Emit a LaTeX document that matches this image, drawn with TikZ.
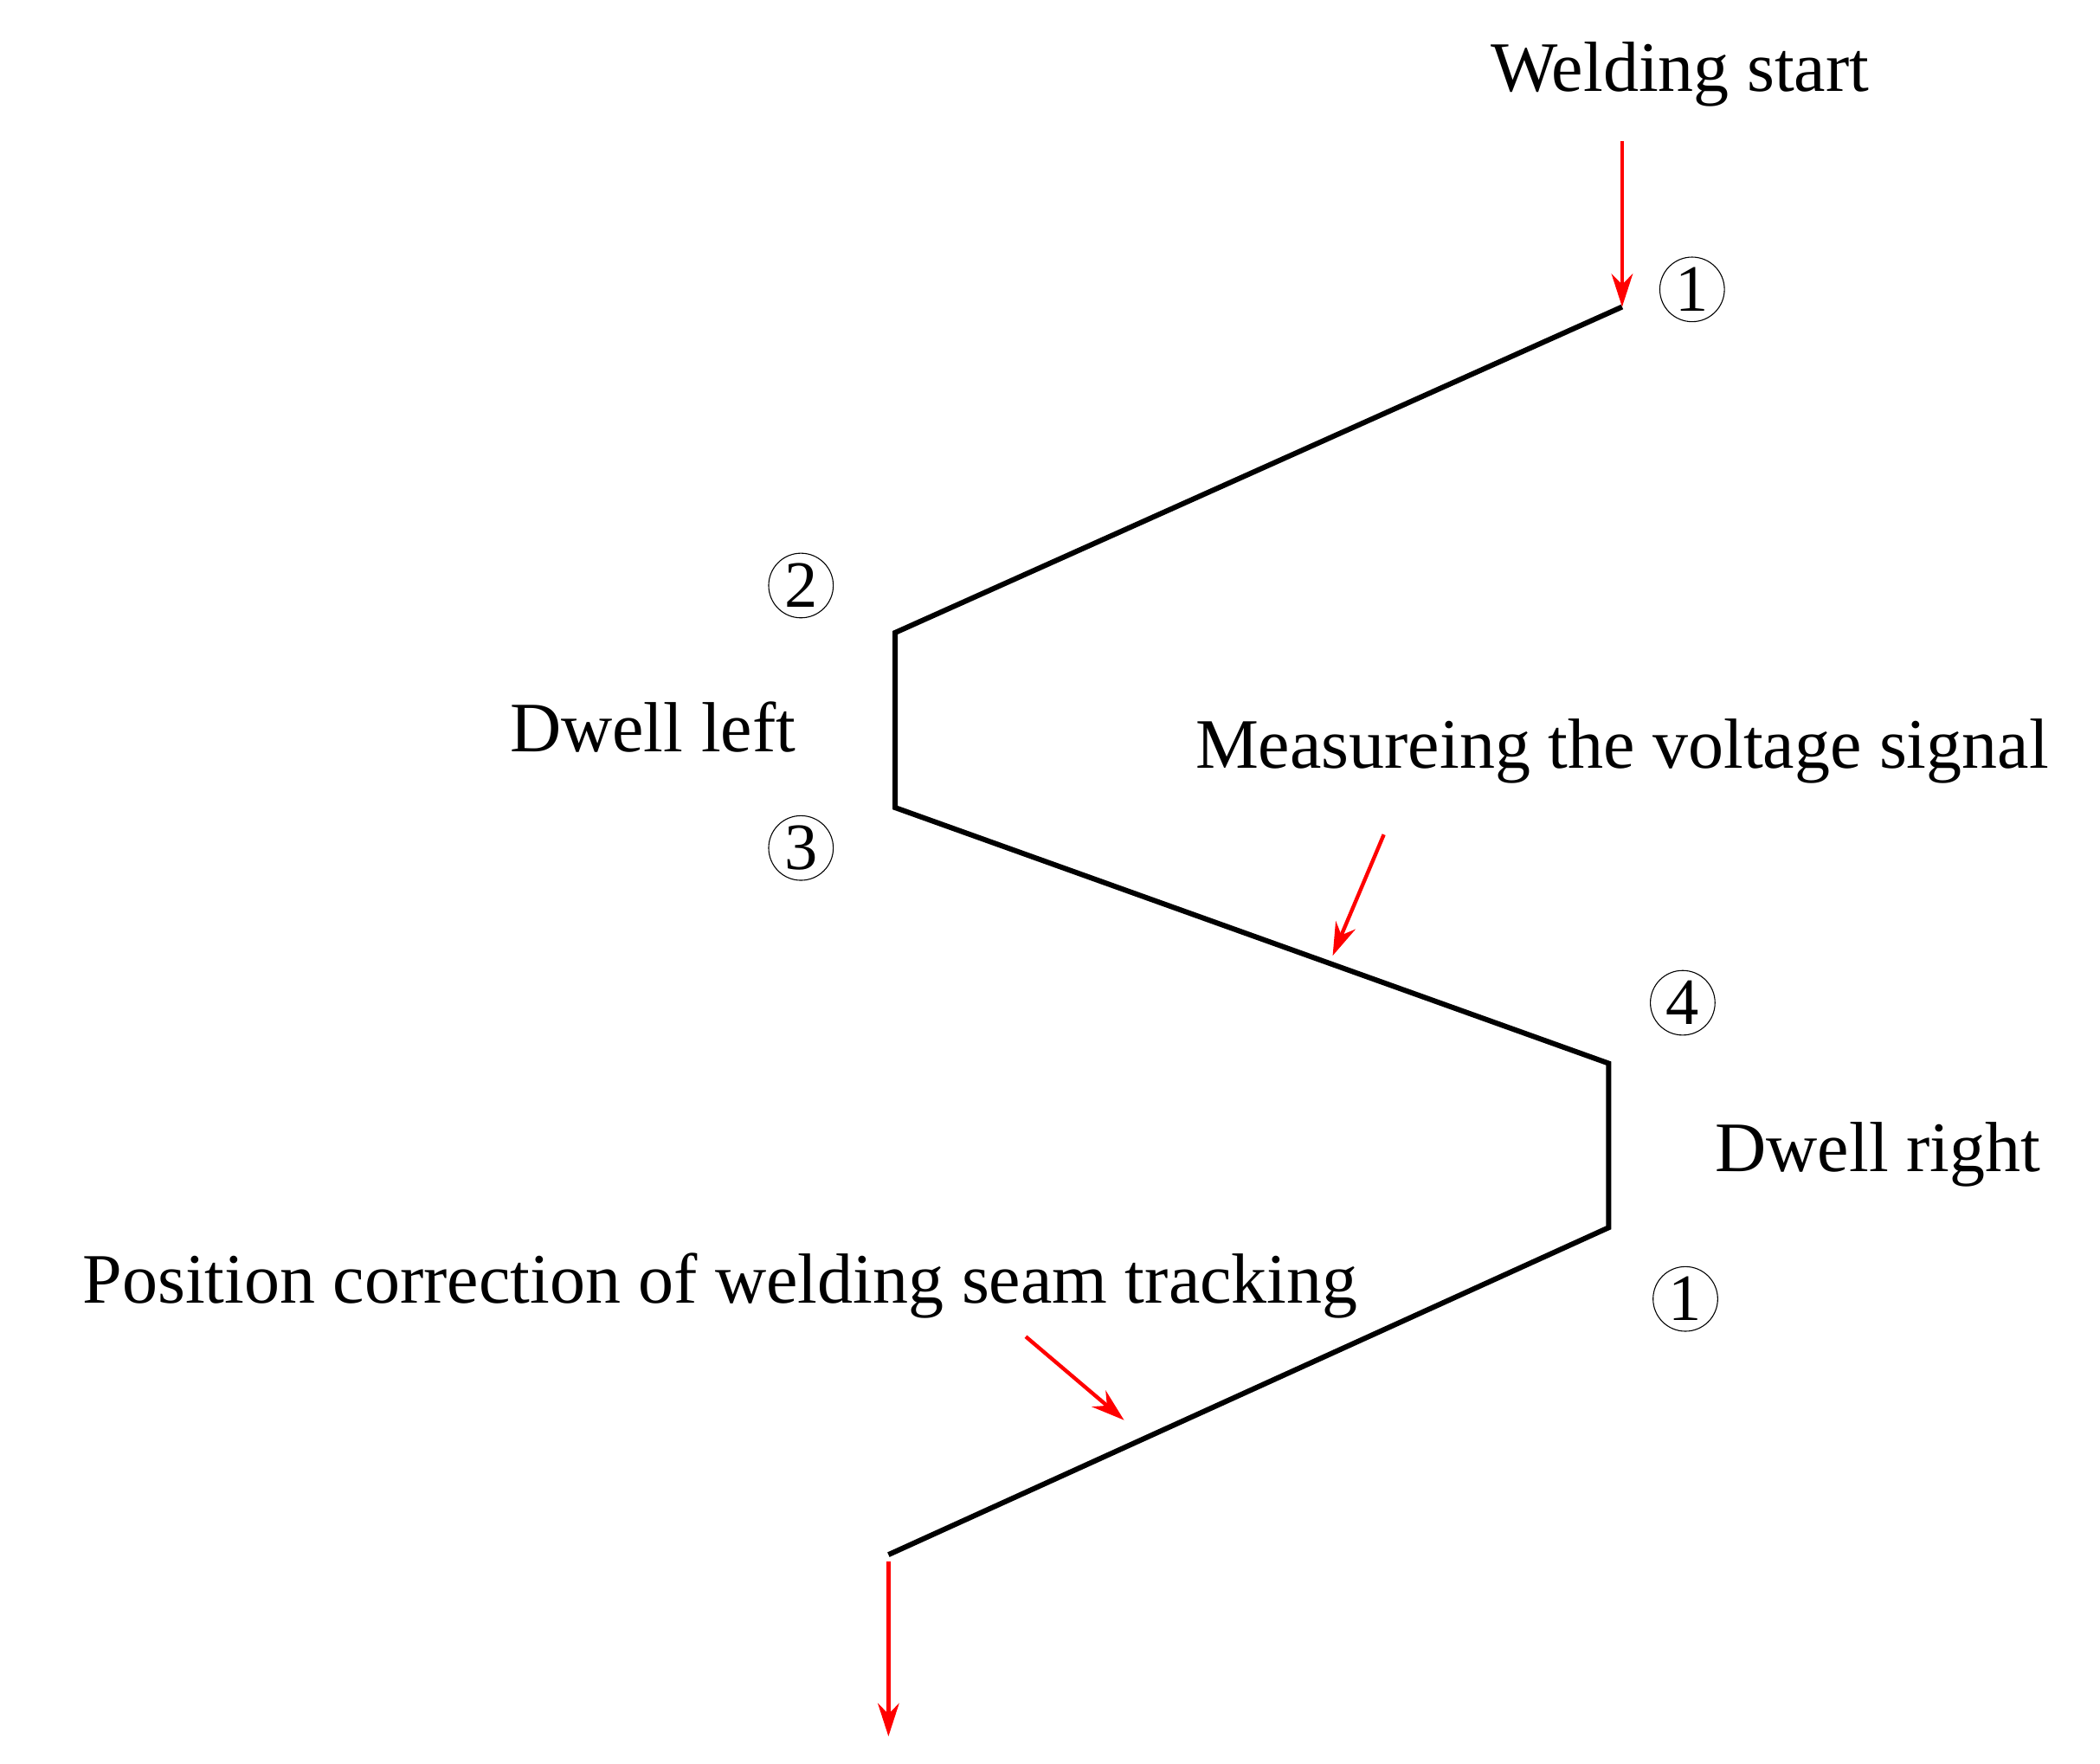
\documentclass[tikz,border=0pt]{standalone}
\usepackage{fontspec}
\setmainfont{Liberation Serif}
\usetikzlibrary{arrows.meta}
\begin{document}
\begin{tikzpicture}[x=0.02cm,y=-0.02cm,
  lbl/.style={font=\fontsize{30}{33}\selectfont,inner sep=0pt},
  num/.style={circle,draw,thin,inner sep=1pt,minimum size=48*0.02cm,font=\fontsize{28}{30}\selectfont},
  path/.style={line width=2.2pt,black},
  red/.style={draw=red,line width=1.6pt,-{Stealth[length=14pt,width=9pt]}}]
\useasboundingbox (0,0) rectangle (1560,1310);
\coordinate (p1) at (1205,228);
\coordinate (p2) at (665,470);
\coordinate (p3) at (665,600);
\coordinate (p4) at (1195,790);
\coordinate (p5) at (1195,912);
\coordinate (p6) at (660,1155);
\draw[path] (p1)--(p2)--(p3)--(p4)--(p5)--(p6);
\node[lbl] (ws) at (1248,55) {Welding start};
\coordinate (wsa) at (1205,105);
\draw[red] (wsa) -- (p1);
\node[num] (n1) at (1257,215) {1};
\node[num] (n2) at (595,435) {2};
\node[num] (n3) at (595,630) {3};
\node[num] (n4) at (1250,745) {4};
\node[num] (n5) at (1252,965) {1};
\node[lbl] (dl) at (485,540) {Dwell left};
\node[lbl] (mv) at (1205,558) {Measureing the voltage signal};
\coordinate (mva) at (1028,620); \coordinate (mvb) at (990,710);
\draw[red] (mva)--(mvb);
\node[lbl] (dr) at (1395,858) {Dwell right};
\node[lbl] (pc) at (535,955) {Position correction of welding seam tracking};
\coordinate (pca) at (762,993); \coordinate (pcb) at (835,1055);
\draw[red] (pca)--(pcb);
\coordinate (ea) at (660,1160); \coordinate (eb) at (660,1290);
\draw[red] (ea)--(eb);
\end{tikzpicture}
\end{document}
